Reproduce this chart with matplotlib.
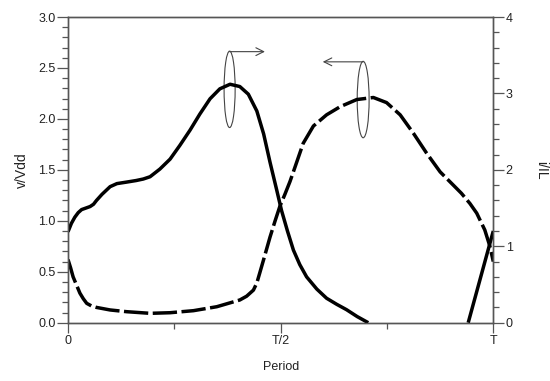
import numpy as np
import matplotlib
matplotlib.use("Agg")
import matplotlib.pyplot as plt
from matplotlib.patches import Ellipse

plt.rcParams['font.family'] = ['Liberation Sans', 'DejaVu Sans']

# Solid curve: i/IL (right axis)
x_i = [0, 0.008, 0.016, 0.024, 0.032, 0.042, 0.052, 0.06, 0.067, 0.08, 0.099, 0.115,
       0.138, 0.160, 0.177, 0.193, 0.216, 0.240, 0.263, 0.287, 0.310, 0.334, 0.357,
       0.381, 0.404, 0.424, 0.444, 0.460, 0.475, 0.491, 0.502, 0.516, 0.530, 0.545,
       0.561, 0.585, 0.608, 0.632, 0.655, 0.68, 0.706, np.nan, 0.941, 1.0]
i_il = [1.19, 1.30, 1.38, 1.44, 1.48, 1.50, 1.52, 1.55, 1.60, 1.68, 1.78, 1.82,
        1.84, 1.86, 1.88, 1.91, 2.01, 2.14, 2.32, 2.52, 2.73, 2.93, 3.06,
        3.12, 3.09, 2.99, 2.77, 2.47, 2.10, 1.73, 1.47, 1.20, 0.95, 0.76,
        0.60, 0.44, 0.32, 0.24, 0.17, 0.08, 0.0, np.nan, 0.0, 1.2]

# Dashed curve: v/Vdd (left axis)
x_v = [0, 0.006, 0.012, 0.02, 0.028, 0.036, 0.044, 0.055, 0.067, 0.099, 0.138, 0.193,
       0.24, 0.295, 0.35, 0.404, 0.42, 0.436, 0.444, 0.451, 0.46, 0.475, 0.487, 0.498,
       0.510, 0.522, 0.534, 0.553, 0.577, 0.608, 0.640, 0.679, 0.718, 0.749, 0.781,
       0.812, 0.843, 0.875, 0.906, 0.925, 0.945, 0.961, 0.980, 0.992, 1.0]
v_vdd = [0.62, 0.54, 0.45, 0.37, 0.29, 0.235, 0.19, 0.165, 0.15, 0.125, 0.108, 0.092,
         0.098, 0.118, 0.157, 0.223, 0.26, 0.32, 0.39, 0.49, 0.62, 0.84, 1.00, 1.14,
         1.26, 1.386, 1.53, 1.76, 1.93, 2.04, 2.12, 2.19, 2.21, 2.16, 2.04,
         1.86, 1.665, 1.48, 1.35, 1.27, 1.17, 1.075, 0.91, 0.75, 0.60]

xticks = [0, 0.5, 1.0]
xticklabels = ['0', 'T/2', 'T']

fig = plt.figure(figsize=(5.5, 3.81), dpi=100)
ax = fig.add_axes([68/550, 1-322.7/381, (493.3-68)/550, (322.7-17)/381])
ax2 = ax.twinx()

gray = '#555555'
for a in (ax, ax2):
    for s in a.spines.values():
        s.set_color(gray)
        s.set_linewidth(1.0)

ax.plot(x_v, v_vdd, color='black', lw=2.5, linestyle=(0, (7, 1.3)),
        dash_capstyle='butt', dash_joinstyle='round')
ax2.plot(x_i, i_il, color='black', lw=2.5, solid_capstyle='butt', solid_joinstyle='round')

ax.set_xlim(0, 1)
ax.set_ylim(0, 3)
ax2.set_ylim(0, 4)

ax.set_xticks(xticks)
ax.set_xticklabels(xticklabels)
ax.set_xticks([0.25, 0.75], minor=True)
ax.set_yticks(np.arange(0, 3.01, 0.5))
ax.set_yticklabels([f'{t:.1f}' for t in np.arange(0, 3.01, 0.5)])
ax.set_yticks(np.arange(0, 3.01, 0.1), minor=True)
ax2.set_yticks([0, 1, 2, 3, 4])
ax2.set_yticks(np.arange(0, 4.01, 0.2), minor=True)

ax.tick_params(axis='y', which='major', direction='out', length=8, width=0.9,
               color=gray, labelsize=9, pad=1, labelcolor='#222222')
ax.tick_params(axis='y', which='minor', direction='out', length=4.5, width=0.9, color=gray)
ax.tick_params(axis='x', which='major', direction='out', length=7, width=0.9,
               color=gray, labelsize=9, pad=2, labelcolor='#222222')
ax.tick_params(axis='x', which='minor', direction='out', length=4.5, width=0.9, color=gray)
ax2.tick_params(axis='y', which='major', direction='out', length=8, width=0.9,
                color=gray, labelsize=9, pad=1, labelcolor='#222222')
ax2.tick_params(axis='y', which='minor', direction='out', length=4.5, width=0.9, color=gray)

fig.text(22/550, 1-170/381, 'v/Vdd', rotation=90, ha='center', va='center',
         fontsize=10, color='#222222')
fig.text(541/550, 1-170/381, 'i/IL', rotation=-90, ha='center', va='center',
         fontsize=10, color='#222222')
fig.text(281/550, 1-367/381, 'Period', ha='center', va='center',
         fontsize=9, color='#222222')

# Annotations (ellipses with arrows) in left-axis data coordinates
ell_color = '#444444'
ax.add_patch(Ellipse((0.380, 2.29), 0.026, 0.75, fill=False, ec=ell_color, lw=0.8))
ax.add_patch(Ellipse((0.694, 2.19), 0.028, 0.75, fill=False, ec=ell_color, lw=0.8))
ax.annotate('', xy=(0.463, 2.66), xytext=(0.380, 2.66),
            arrowprops=dict(arrowstyle='->', color=ell_color, lw=0.8,
                            shrinkA=0, shrinkB=0, mutation_scale=14))
ax.annotate('', xy=(0.599, 2.56), xytext=(0.694, 2.56),
            arrowprops=dict(arrowstyle='->', color=ell_color, lw=0.8,
                            shrinkA=0, shrinkB=0, mutation_scale=14))

fig.savefig('out.png', dpi=100)
